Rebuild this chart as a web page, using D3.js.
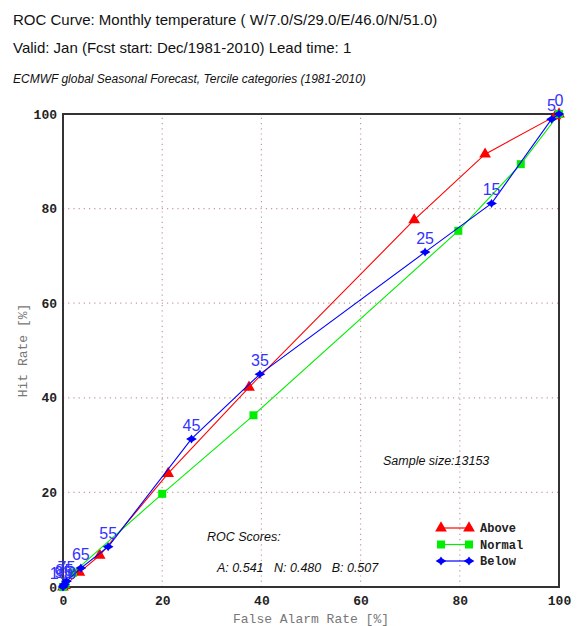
<!DOCTYPE html>
<html>
<head>
<meta charset="utf-8">
<script src="https://cdn.jsdelivr.net/npm/d3@7"></script>
<style>
body { margin: 0; background: #fff; }
svg { display: block; }
</style>
</head>
<body>
<div id="chart"></div>
<script>
// data: false alarm rate / hit rate in %
let tickValues = [0, 20, 40, 60, 80, 100];

let aboveFar = [100, 99.3, 85.1, 70.8, 37.5, 21.2, 7.4, 3.3, 0.4, 0];
let aboveHit = [100, 99.6, 91.5, 77.6, 42.2, 24.0, 6.7, 3.1, 0.3, 0];

let normalFar = [100, 92.3, 79.7, 38.4, 20.0, 2.0, 0.5, 0];
let normalHit = [100, 89.4, 75.3, 36.3, 19.7, 3.0, 0.6, 0];

let belowFar = [100, 98.5, 86.4, 73.0, 39.7, 25.9, 9.1, 3.6, 0.7, 0.3, 0.1, 0];
let belowHit = [100, 98.9, 81.1, 70.8, 45.0, 31.3, 8.5, 4.0, 1.2, 0.6, 0.2, 0];
let belowLabels = ["0", "5", "15", "25", "35", "45", "55", "65", "75", "85", "95", "100"];

let scores = { A: "0.541", N: "0.480", B: "0.507" };
let sampleSize = 13153;

let width = 578, height = 626;
let mono = "'Liberation Mono', 'Courier New', monospace";
let sans = "'Liberation Sans', Arial, Helvetica, sans-serif";

let svg = d3.select("#chart").append("svg")
    .attr("width", width)
    .attr("height", height);

// 坐标比例尺
let x = d3.scaleLinear().domain([0, 100]).range([63, 559]);
let y = d3.scaleLinear().domain([0, 100]).range([587, 114]);

// titles
svg.append("text").attr("x", 13).attr("y", 25)
    .style("font-family", sans).style("font-size", "15px").attr("fill", "#111")
    .text("ROC Curve: Monthly temperature ( W/7.0/S/29.0/E/46.0/N/51.0)");
svg.append("text").attr("x", 13).attr("y", 53)
    .style("font-family", sans).style("font-size", "15px").attr("fill", "#111")
    .text("Valid: Jan (Fcst start: Dec/1981-2010) Lead time: 1");
svg.append("text").attr("x", 13).attr("y", 83)
    .style("font-family", sans).style("font-size", "12px").style("font-style", "italic").attr("fill", "#111")
    .text("ECMWF global Seasonal Forecast, Tercile categories (1981-2010)");

// dotted grid
let grid = tickValues.filter(d => d > 0 && d < 100);
svg.append("g").selectAll("line.gx").data(grid).enter().append("line")
    .attr("x1", d => x(d)).attr("x2", d => x(d))
    .attr("y1", y(0)).attr("y2", y(100))
    .attr("stroke", "#c49a9a").attr("stroke-width", 1.2).attr("stroke-dasharray", "1.2,4");
svg.append("g").selectAll("line.gy").data(grid).enter().append("line")
    .attr("x1", x(0)).attr("x2", x(100))
    .attr("y1", d => y(d)).attr("y2", d => y(d))
    .attr("stroke", "#c49a9a").attr("stroke-width", 1.2).attr("stroke-dasharray", "1.2,4");

// axes
let xAxis = svg.append("g")
    .attr("transform", "translate(0," + y(0) + ")")
    .call(d3.axisBottom(x).tickValues(tickValues).tickSize(0).tickPadding(9));
let yAxis = svg.append("g")
    .attr("transform", "translate(" + x(0) + ",0)")
    .call(d3.axisLeft(y).tickValues(tickValues).tickSize(0).tickPadding(6));
[xAxis, yAxis].forEach(a => {
    a.select(".domain").remove();
    a.selectAll("text")
        .style("font-family", mono).style("font-size", "13px")
        .style("font-weight", "bold").attr("fill", "#222");
});

// frame
svg.append("rect")
    .attr("x", x(0)).attr("y", y(100))
    .attr("width", x(100) - x(0)).attr("height", y(0) - y(100))
    .attr("fill", "none").attr("stroke", "#333").attr("stroke-width", 2);

// axis titles
svg.append("text").attr("x", (x(0) + x(100)) / 2).attr("y", 623)
    .attr("text-anchor", "middle")
    .style("font-family", mono).style("font-size", "13px").attr("fill", "#777")
    .text("False Alarm Rate [%]");
svg.append("text")
    .attr("transform", "translate(27," + ((y(0) + y(100)) / 2) + ") rotate(-90)")
    .attr("text-anchor", "middle")
    .style("font-family", mono).style("font-size", "13px").attr("fill", "#777")
    .text("Hit Rate [%]");

let line = d3.line().x(d => x(d[0])).y(d => y(d[1]));
let triangle = d3.symbol().type(d3.symbolTriangle).size(60);
let square = d3.symbol().type(d3.symbolSquare).size(64);
// 蓝色的小星形标记
let starType = {
    draw: function(ctx, size) {
        let r = Math.sqrt(size) * 0.75;
        ctx.moveTo(-r * 1.2, 0);
        ctx.lineTo(-r * 0.3, -r * 0.55);
        ctx.lineTo(0, -r);
        ctx.lineTo(r * 0.3, -r * 0.55);
        ctx.lineTo(r * 1.2, 0);
        ctx.lineTo(r * 0.3, r * 0.55);
        ctx.lineTo(0, r);
        ctx.lineTo(-r * 0.3, r * 0.55);
        ctx.closePath();
    }
};
let star = d3.symbol().type(starType).size(36);

let series = [
    { name: "Above", far: aboveFar, hit: aboveHit, color: "#ff0000", sym: triangle },
    { name: "Normal", far: normalFar, hit: normalHit, color: "#00ee00", sym: square },
    { name: "Below", far: belowFar, hit: belowHit, color: "#0000ff", sym: star }
];

series.forEach(s => {
    let pts = s.far.map((f, i) => [f, s.hit[i]]);
    svg.append("path").datum(pts)
        .attr("fill", "none").attr("stroke", s.color).attr("stroke-width", 1.1)
        .attr("d", line);
    svg.append("g").selectAll("path").data(pts).enter().append("path")
        .attr("d", s.sym)
        .attr("transform", d => "translate(" + x(d[0]) + "," + y(d[1]) + ")")
        .attr("fill", s.color);
});

// probability labels on the Below curve
svg.append("g").selectAll("text").data(belowLabels).enter().append("text")
    .attr("x", (d, i) => x(belowFar[i]))
    .attr("y", (d, i) => y(belowHit[i]) - 8)
    .attr("text-anchor", "middle")
    .style("font-family", sans).style("font-size", "16px").attr("fill", "#3333ff")
    .text(d => d);

// sample size and scores
svg.append("text").attr("x", 383).attr("y", 465)
    .style("font-family", sans).style("font-size", "12.5px").style("font-style", "italic").attr("fill", "#111")
    .text("Sample size:" + sampleSize);
svg.append("text").attr("x", 207).attr("y", 541)
    .style("font-family", sans).style("font-size", "12.5px").style("font-style", "italic").attr("fill", "#111")
    .text("ROC Scores:");
svg.append("text").attr("x", 217).attr("y", 572)
    .style("font-family", sans).style("font-size", "12.5px").style("font-style", "italic").attr("fill", "#111")
    .attr("xml:space", "preserve").style("white-space", "pre")
    .text("A: " + scores.A + "   N: " + scores.N + "   B: " + scores.B);

// legend
let legend = svg.append("g").selectAll("g").data(series).enter().append("g")
    .attr("transform", (d, i) => "translate(0," + (528 + i * 16.5) + ")");
legend.append("line").attr("x1", 441).attr("x2", 469)
    .attr("stroke", d => d.color).attr("stroke-width", 1.2);
legend.append("path").attr("d", d => d.sym()).attr("fill", d => d.color)
    .attr("transform", "translate(441,0)");
legend.append("path").attr("d", d => d.sym()).attr("fill", d => d.color)
    .attr("transform", "translate(469,0)");
legend.append("text").attr("x", 480).attr("y", 4)
    .style("font-family", mono).style("font-size", "12px").style("font-weight", "bold").attr("fill", "#222")
    .text(d => d.name);
</script>
</body>
</html>
